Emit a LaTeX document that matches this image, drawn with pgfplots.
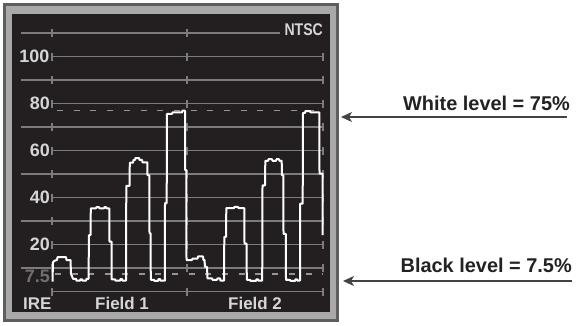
\documentclass[border=0pt]{standalone}
\usepackage{pgfplots}
\pgfplotsset{compat=1.18}
\usepackage{fontspec}
\setmainfont{Liberation Sans}
\usetikzlibrary{arrows.meta}
\definecolor{screen}{HTML}{231F20}
\definecolor{gridc}{HTML}{7C7C7C}
\definecolor{dashc}{HTML}{959595}
\definecolor{labelc}{HTML}{D6D6D6}
\definecolor{dimc}{HTML}{707070}
\definecolor{frameout}{HTML}{5E5E5E}
\definecolor{framein}{HTML}{A9A9A9}
\definecolor{annot}{HTML}{222222}
\newcommand\scr{\bfseries\fontsize{17}{20}\selectfont}
\newcommand\scrd{\bfseries\fontsize{18}{21}\selectfont}
\begin{document}
\begin{tikzpicture}
\begin{scope}[x=1bp,y=1bp]
\useasboundingbox (0,0) rectangle (576,325);
\fill[white] (0,0) rectangle (576,325);
\fill[frameout] (3,3) rectangle (339,322);
\fill[framein] (6,6) rectangle (336,319);
\fill[screen] (12,13) rectangle (330,311);
% annotations
\node[anchor=base east, inner sep=0, text=annot, font=\bfseries\fontsize{20}{24}\selectfont] at (570,215) {White level = 75\%};
\draw[annot!85, line width=1.6, -{Stealth[length=11,width=10,inset=3]}] (567,208) -- (341,208);
\node[anchor=base east, inner sep=0, text=annot, font=\bfseries\fontsize{20}{24}\selectfont] at (572,53) {Black level = 7.5\%};
\draw[annot!85, line width=1.6, -{Stealth[length=11,width=10,inset=3]}] (572,44) -- (343,44);
\end{scope}
\begin{axis}[at={(12bp,13bp)}, anchor=south west, scale only axis,
  width=318bp, height=298bp, xmin=12, xmax=330, ymin=-8.72, ymax=118.09,
  hide axis, clip=false]
% grid lines
\draw[gridc, line width=1.3bp] (axis cs:21,110) -- (axis cs:280,110);
\pgfplotsinvokeforeach{10,30,50,70,90}{
  \draw[gridc, line width=1.3bp] (axis cs:21,#1) -- (axis cs:323,#1);
}
\pgfplotsinvokeforeach{0,20,40,60,80,100}{
  \draw[gridc, line width=1.3bp] (axis cs:52,#1) -- (axis cs:323,#1);
}
\pgfplotsinvokeforeach{0,10,20,30,40,50,60,70,80,90,100,110}{
  \draw[gridc, line width=1.2bp] (axis cs:52,#1-1.7) -- (axis cs:52,#1+1.7);
  \draw[gridc, line width=1.2bp] (axis cs:187,#1-1.7) -- (axis cs:187,#1+1.7);
}
\pgfplotsinvokeforeach{0,10,20,30,40,50,60,70,80,90,100}{
  \draw[gridc, line width=1.2bp] (axis cs:323,#1-1.7) -- (axis cs:323,#1+1.7);
}
\draw[dashc, line width=1.3bp, dash pattern=on 6bp off 10.7bp] (axis cs:57,77) -- (axis cs:323,77);
\draw[dashc, line width=1.3bp, dash pattern=on 6bp off 10.7bp] (axis cs:55,7.5) -- (axis cs:323,7.5);
% labels
\node[anchor=east, inner sep=0, text=labelc, font=\scrd] at (axis cs:49.5,100) {100};
\node[anchor=east, inner sep=0, text=labelc, font=\scrd] at (axis cs:50,80) {80};
\node[anchor=east, inner sep=0, text=labelc, font=\scrd] at (axis cs:50,60) {60};
\node[anchor=east, inner sep=0, text=labelc, font=\scrd] at (axis cs:50,40) {40};
\node[anchor=east, inner sep=0, text=labelc, font=\scrd] at (axis cs:50,20) {20};
\node[anchor=east, inner sep=0, text=dimc, font=\scrd] at (axis cs:50,6.6) {7.5};
\node[anchor=base west, inner sep=0, text=labelc, font=\scr] at (axis cs:23,-7.45) {IRE};
\node[anchor=base west, inner sep=0, text=labelc, font=\scr] at (axis cs:95,-7.45) {Field 1};
\node[anchor=base west, inner sep=0, text=labelc, font=\scr] at (axis cs:228,-7.45) {Field 2};
\node[anchor=base east, inner sep=0, text=labelc, font=\scr] at (axis cs:323,109.1) {\scalebox{0.83}[1]{NTSC}};
% waveform
\addplot[white, line width=2bp, line join=round, mark=none] coordinates {
(52.5,4.2) (53,12.5) (55,13.2) (57,13.4) (57.5,14.6) (66,14.6) (66.5,13.4) (70.5,13.4)
(71,7.5) (72.5,6) (73,5.4) (76,5.4) (76.5,4.6) (80,4.6) (80.5,5.2) (82,5.2) (82.5,4.6)
(86,4.6) (86.5,5.4) (88.5,5.4) (89,24) (90.5,24) (90.8,35.4) (96,35.4) (96.5,35.9)
(99,35.9) (99.5,35.4) (104,35.4) (104.5,35.9) (106,35.9) (106.5,35.4) (109.3,35.4)
(109.5,21.2) (111.5,21.2) (111.7,5.2) (115,5.2) (115.5,4.6) (120,4.6) (120.5,5.3)
(122,5.3) (122.5,4.6) (126,4.6) (126.3,45) (129.5,45) (129.8,54.8) (133,54.8) (133.5,56)
(135,56) (135.5,56.8) (139,56.8) (139.5,56) (142,56) (142.5,55) (147.3,55) (147.5,49.5)
(149.3,49.5) (149.5,24.8) (150.5,24.8) (150.8,5) (154,5) (154.5,4.5) (158,4.5)
(158.5,5.3) (160,5.3) (160.5,4.6) (164.8,4.6) (165,37.6) (166.7,37.6) (166.9,75.6)
(172,75.6) (172.5,76.2) (182,76.2) (182.5,77) (185,77) (185.2,51.7) (186.3,51.7)
(186.5,13.4) (192,13.4) (192.5,14) (197.5,14) (198,14.9) (203,14.9) (203.5,13.4)
(204.5,13.4) (205,10.5) (207,10.5) (207.5,5.6) (212,5.6) (212.5,5) (217,5) (217.5,5.6)
(220,5.6) (220.5,4.6) (224,4.6) (224.3,23.3) (226,23.3) (226.3,35.5) (234,35.5)
(234.5,36) (238,36) (238.5,35.5) (244.3,35.5) (244.5,20.4) (246.5,20.4) (246.8,5)
(250,5) (250.5,4.5) (256,4.5) (256.5,5.2) (258,5.2) (258.5,4.6) (262.2,4.6) (262.5,45.2)
(265,45.2) (265.3,55.6) (268,55.6) (268.5,56.3) (272,56.3) (272.5,55.6) (276,55.6)
(276.5,56.3) (279,56.3) (279.5,55.6) (281.7,55.6) (281.9,49.5) (283.3,49.5) (283.5,24.5)
(285.8,24.5) (286,5) (290,5) (290.5,4.5) (295,4.5) (295.5,5.2) (297,5.2) (297.5,4.6)
(300,4.6) (300.2,37.4) (302.7,37.4) (302.9,76) (305,76) (305.5,76.8) (310,76.8)
(310.5,76.2) (319.3,76.2) (319.5,50.2) (322.5,50.2) (322.7,24)
};
\end{axis}
\end{tikzpicture}
\end{document}
